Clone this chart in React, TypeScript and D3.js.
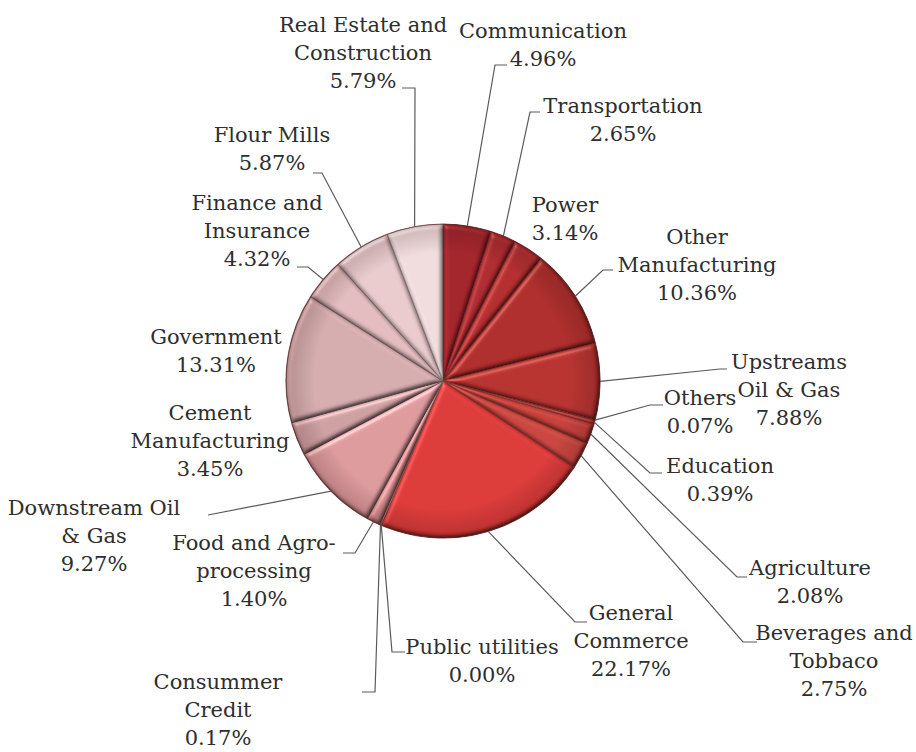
import React from "react";
import * as d3 from "d3";

// ---- data ----
const categories = [
  "Communication", "Transportation", "Power", "Other Manufacturing", "Upstreams Oil & Gas",
  "Others", "Education", "Agriculture", "Beverages and Tobbaco", "General Commerce",
  "Public utilities", "Consummer Credit", "Food and Agro-processing", "Downstream Oil & Gas",
  "Cement Manufacturing", "Government", "Finance and Insurance", "Flour Mills",
  "Real Estate and Construction",
];
const shares = [
  4.96, 2.65, 3.14, 10.36, 7.88, 0.07, 0.39, 2.08, 2.75, 22.17,
  0.0, 0.17, 1.4, 9.27, 3.45, 13.31, 4.32, 5.87, 5.79,
];
const labelLines = [
  ["Communication"], ["Transportation"], ["Power"], ["Other", "Manufacturing"],
  ["Upstreams", "Oil & Gas"], ["Others"], ["Education"], ["Agriculture"],
  ["Beverages and", "Tobbaco"], ["General", "Commerce"], ["Public utilities"],
  ["Consummer", "Credit"], ["Food and Agro-", "processing"], ["Downstream Oil", "& Gas"],
  ["Cement", "Manufacturing"], ["Government"], ["Finance and", "Insurance"],
  ["Flour Mills"], ["Real Estate and", "Construction"],
];
const sliceColors = [
  "#a3232a", "#ad2a2f", "#b32d2e", "#ad2d2a", "#b6322f",
  "#bc3733", "#c03b37", "#c53f3a", "#c9453f", "#dc3a38",
  "#d86a66", "#d27a7a", "#d68c8e", "#dd9a9d", "#cd9fa1",
  "#d5acae", "#e2bbbd", "#e9cacc", "#f1dcdd",
];

// ---- layout (label placement) ----
const CX = 443, CY = 381, R = 157;
const LINE_H = 28.2;
type Lay = { x: number; y: number; start?: [number, number]; elbow?: [number, number] };
const layout: Lay[] = [
  { x: 543, y: 31, start: [507, 65], elbow: [495, 65] },
  { x: 623, y: 106, start: [540, 112], elbow: [530, 112] },
  { x: 565, y: 205 },
  { x: 697, y: 237, start: [613, 270], elbow: [603, 270] },
  { x: 789, y: 362, start: [727, 369], elbow: [720, 369] },
  { x: 700, y: 398, start: [663, 405], elbow: [650, 405] },
  { x: 720, y: 466, start: [662, 473], elbow: [650, 473] },
  { x: 810, y: 568, start: [747, 577], elbow: [737, 577] },
  { x: 834, y: 633, start: [757, 642], elbow: [743, 642] },
  { x: 631, y: 613, start: [587, 622], elbow: [575, 622] },
  { x: 482, y: 647, start: [405, 652], elbow: [392, 652] },
  { x: 218, y: 682, start: [362, 692], elbow: [375, 692] },
  { x: 254, y: 543, start: [343, 553], elbow: [355, 553] },
  { x: 94, y: 508, start: [208, 515], elbow: [208, 515] },
  { x: 210, y: 413 },
  { x: 216, y: 337 },
  { x: 257, y: 203, start: [297, 267], elbow: [308, 267] },
  { x: 272, y: 135, start: [313, 173], elbow: [322, 173] },
  { x: 363, y: 25, start: [402, 88], elbow: [415, 88] },
];

export default function App() {
  const pie = d3
    .pie<number>()
    .sort(null)
    .value((d) => d)
    .startAngle(0)
    .endAngle(2 * Math.PI);
  const arcs = pie(shares);
  const arc = d3.arc<d3.PieArcDatum<number>>().innerRadius(0).outerRadius(R);

  return (
    <svg
      width={916}
      height={752}
      style={{ position: "absolute", left: 0, top: 0, background: "#fff" }}
      fontFamily="'DejaVu Serif', serif"
    >
      <defs>
        <filter id="bevel" x="-10%" y="-10%" width="120%" height="120%" colorInterpolationFilters="sRGB">
          <feGaussianBlur in="SourceAlpha" stdDeviation="2.5" result="blur" />
          <feDiffuseLighting in="blur" surfaceScale="3" diffuseConstant="1.12" lightingColor="#ffffff" result="diff">
            <feDistantLight azimuth="235" elevation="62" />
          </feDiffuseLighting>
          <feComposite in="SourceGraphic" in2="diff" operator="arithmetic" k1="1" k2="0" k3="0" k4="0" result="lit" />
          <feSpecularLighting
            in="blur"
            surfaceScale="3"
            specularConstant="0.45"
            specularExponent="30"
            lightingColor="#ffffff"
            result="spec"
          >
            <feDistantLight azimuth="235" elevation="42" />
          </feSpecularLighting>
          <feComposite in="spec" in2="SourceAlpha" operator="in" result="specIn" />
          <feComposite in="lit" in2="specIn" operator="arithmetic" k1="0" k2="1" k3="0.55" k4="0" result="out" />
          <feComposite in="out" in2="SourceAlpha" operator="in" />
        </filter>
        <radialGradient id="rimShade" cx="0.5" cy="0.5" r="0.5">
          <stop offset="0.82" stopColor="#000" stopOpacity="0" />
          <stop offset="1" stopColor="#3a0a0a" stopOpacity="0.2" />
        </radialGradient>
      </defs>

      <g transform={`translate(${CX},${CY})`}>
        {arcs.map((a, i) => (
          <path
            key={categories[i]}
            d={arc(a) || ""}
            fill={sliceColors[i]}
            stroke={d3.color(sliceColors[i])!.darker(1.5).formatHex()}
            strokeOpacity={0.8}
            strokeWidth={1.1}
            strokeLinejoin="round"
            filter="url(#bevel)"
          />
        ))}
        <circle r={R} fill="url(#rimShade)" />
        <circle r={R} fill="none" stroke="#5a1c1c" strokeOpacity={0.6} strokeWidth={1.2} />
      </g>

      {arcs.map((a, i) => {
        const lay = layout[i];
        if (!lay.start || !lay.elbow) return null;
        const mid = (a.startAngle + a.endAngle) / 2;
        const px = CX + R * Math.sin(mid);
        const py = CY - R * Math.cos(mid);
        const pts = [lay.start, lay.elbow, [px, py]];
        return (
          <polyline
            key={"l" + i}
            points={pts.map((p) => p.join(",")).join(" ")}
            fill="none"
            stroke="#5a5a5a"
            strokeWidth={1.2}
          />
        );
      })}

      {arcs.map((a, i) => {
        const lay = layout[i];
        const lines = [...labelLines[i], shares[i].toFixed(2) + "%"];
        return (
          <text key={"t" + i} textAnchor="middle" fontSize={21} fill="#2e2e2e">
            {lines.map((ln, j) => (
              <tspan key={j} x={lay.x} y={lay.y + j * LINE_H + 7}>
                {ln}
              </tspan>
            ))}
          </text>
        );
      })}
    </svg>
  );
}
